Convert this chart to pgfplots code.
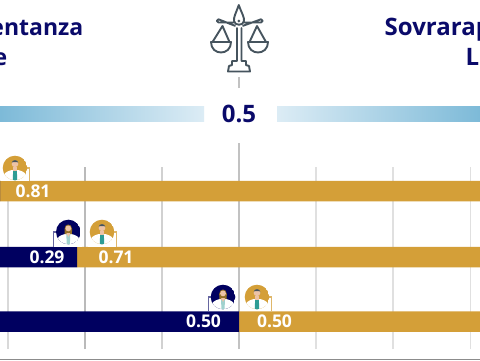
\documentclass[border=0pt]{standalone}
\usepackage{pgfplots}
\pgfplotsset{compat=1.18}
\usepackage{fontspec}
\setmainfont{Open Sans}
\definecolor{navy}{HTML}{000060}
\definecolor{gold}{HTML}{D49F38}
\definecolor{titlec}{HTML}{0A0A6A}
\definecolor{barL}{HTML}{7DBAD8}
\definecolor{barC}{HTML}{DCECF5}
\definecolor{scalec}{HTML}{46545E}
\definecolor{skin}{HTML}{EDC3A6}
\definecolor{tealc}{HTML}{2E9C94}
\pgfplotsset{base/.style={
  at={(0,0)},anchor=south west,scale only axis,width=480pt,height=360pt,
  xmin=0.19,xmax=0.81257,ymin=0,ymax=360,hide axis,clip=true}}
% icon: #1 x, #2 y centre (px), #3 circle colour, #4 bracket side (+1/-1), #5 bar top, #6 bracket colour, #7 1=man 0=woman
\newcommand\doctor[7]{%
  \begin{scope}[shift={(#1,#2)}]
    \fill[white] (-14,-13) rectangle (14,#5-#2);
    \draw[#6,line width=1.2] (#4*10,0) -- (#4*14.5,0) -- (#4*14.5,#5-#2-0.5);
    \begin{scope}
      \clip (0,0) circle (12.3);
      \fill[#3] (0,0) circle (12.3);
      \fill[white] (-11,13) -- (-10.5,6) .. controls (-9,3.5) and (-5,2.5) .. (-3,2) -- (3,2) .. controls (5,2.5) and (9,3.5) .. (10.5,6) -- (11,13) -- cycle;
      \ifnum#7=1
        \fill[tealc] (-1.8,2) -- (1.8,2) -- (2.3,13) -- (-2.3,13) -- cycle;
        \fill[skin] (-1.8,-1) rectangle (1.8,2.6);
        \fill[skin] (0,-4.2) circle (3.4);
        \fill[scalec] (-3.4,-4.6) .. controls (-3.6,-9) and (3.6,-9) .. (3.4,-4.6) -- (2.4,-6) -- (-2.4,-6) -- cycle;
      \else
        \fill[tealc!45!white] (-2,2) -- (2,2) -- (1.5,13) -- (-1.5,13) -- cycle;
        \fill[skin] (-1.6,-1) rectangle (1.6,2.6);
        \fill[gold!70!black] (-3.8,-3) .. controls (-3.8,-9) and (3.8,-9) .. (3.8,-3) -- (3.6,2) -- (-3.6,2) -- cycle;
        \fill[skin] (0,-3.6) circle (2.9);
        \fill[skin] (-2,1) -- (2,1) -- (0,5) -- cycle;
      \fi
    \end{scope}
  \end{scope}}
\begin{document}
\begin{tikzpicture}[x=1pt,y=1pt]
\path[use as bounding box,clip] (0,0) rectangle (480,360);
\fill[white] (0,0) rectangle (480,360);
% gridlines
\begin{axis}[base]
\addplot[draw=black!15,line width=1.6pt] coordinates {(0.2,11) (0.2,193)};
\addplot[draw=black!27,line width=1.6pt] coordinates {(0.3,11) (0.3,193)};
\addplot[draw=black!18,line width=1.6pt] coordinates {(0.4,11) (0.4,193)};
\addplot[draw=black!24,line width=1.6pt] coordinates {(0.5,11) (0.5,217)};
\addplot[draw=black!24,line width=1.6pt] coordinates {(0.5,272) (0.5,283)};
\addplot[draw=black!12,line width=1.6pt] coordinates {(0.6,11) (0.6,193)};
\addplot[draw=black!12,line width=1.6pt] coordinates {(0.7,11) (0.7,193)};
\addplot[draw=black!12,line width=1.6pt] coordinates {(0.8,11) (0.8,193)};
\end{axis}
% bars
\begin{axis}[base,xbar stacked,bar width=20.5pt,bar shift=0pt]
\addplot[fill=navy,draw=none] coordinates {(0.19,169) (0.29,103) (0.50,38.5)};
\addplot[fill=gold,draw=none] coordinates {(0.81,169) (0.71,103) (0.50,38.5)};
\end{axis}
\begin{scope}[shift={(0,360)},x=1pt,y=-1pt]
  % bottom rule
  \fill[black!45] (0,359) rectangle (480,360);
  % gradient bands
  \shade[left color=barL,right color=barC] (0,106) rectangle (204,121.5);
  \shade[left color=barC,right color=barL] (277,106) rectangle (480,121.5);
  % titles
  \node[anchor=base east,inner sep=0,text=titlec,font=\fontsize{23}{23}\selectfont\bfseries] at (83.5,35) {Sottorappresentanza};
  \node[anchor=base east,inner sep=0,text=titlec,font=\fontsize{23}{23}\selectfont\bfseries] at (7.5,65) {Lavoratrice};
  \node[anchor=base west,inner sep=0,text=titlec,font=\fontsize{24}{24}\selectfont\bfseries] at (384.5,35) {Sovrarappresentanza};
  \node[anchor=base west,inner sep=0,text=titlec,font=\fontsize{24}{24}\selectfont\bfseries] at (465.5,65) {Lavoratore};
  \node[text=titlec,inner sep=0,font=\fontsize{24}{24}\selectfont\bfseries] at (239,113.5) {0.5};
  % value labels
  \foreach \tx/\xx/\yy in {0.81/33/191,0.29/47/257,0.71/116/257,0.50/203.5/321.5,0.50/274.5/321.5}
    \node[text=white,inner sep=0,font=\fontsize{17.5}{17.5}\selectfont\bfseries] at (\xx,\yy) {\tx};
  % balance
  \begin{scope}[draw=scalec,line width=1.9,line join=round,line cap=round]
    \draw (238.8,5) .. controls (236,13) and (233.5,17) .. (234,21) .. controls (234.5,26) and (243.5,26) .. (244,21) .. controls (244.5,17) and (241.5,13) .. (238.8,5) -- cycle;
    \fill[scalec] (238.9,21) circle (1.5);
    \draw (233.5,22.5) -- (218.5,22.5) arc (-270:-90:1.6) -- (235,25.8);
    \draw (244,22.5) -- (261,22.5) arc (90:-90:1.6) -- (243,25.8);
    \draw (237,28) -- (237,61) -- (232,61) -- (232,65) -- (229,66) -- (228,71.5) -- (250,71.5) -- (249,66) -- (246,65) -- (246,61) -- (241.5,61) -- (241.5,28);
    \draw (222.5,26) -- (212.5,42) (222.5,26) -- (229.5,42);
    \draw (211,42) -- (231,42) .. controls (231,56) and (211,56) .. (211,42) -- cycle;
    \draw (257,26) -- (249.5,42) (257,26) -- (266,42);
    \draw (248,42) -- (268,42) .. controls (268,56) and (248,56) .. (248,42) -- cycle;
  \end{scope}
  % doctors
  \doctor{15}{168}{gold}{1}{181}{gold!75!white}{1}
  \doctor{68.3}{232}{navy}{-1}{247}{navy!60!white}{0}
  \doctor{102}{232}{gold}{1}{247}{gold!75!white}{1}
  \doctor{223}{297}{navy}{-1}{311}{navy!60!white}{0}
  \doctor{257}{297}{gold}{1}{311}{gold!75!white}{1}
\end{scope}
\end{tikzpicture}
\end{document}
